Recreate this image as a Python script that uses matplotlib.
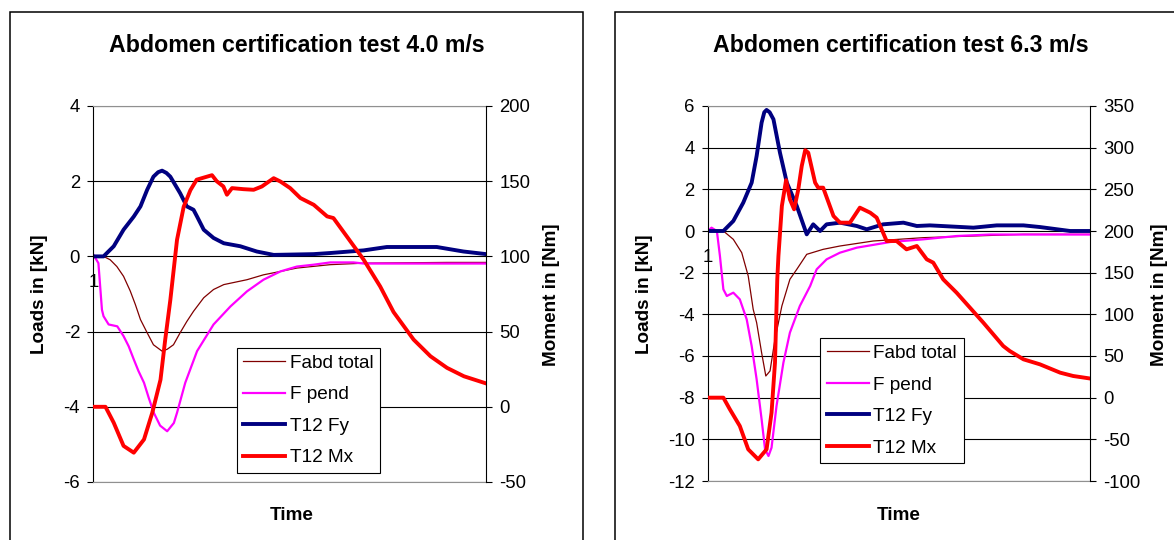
import numpy as np
import matplotlib
matplotlib.use('Agg')
import matplotlib.pyplot as plt
from matplotlib.patches import Rectangle

plt.rcParams['font.family'] = ['Liberation Sans', 'DejaVu Sans']
plt.rcParams['axes.unicode_minus'] = False

# ---- data (time in % of record length) ----
# Test at 4.0 m/s
t_fabd_40 = [0, 2.6, 4.3, 6, 7.7, 9.4, 10.7, 12, 13.7, 15.3, 17.5, 18.8, 20.4, 22.1, 23.8, 25.5, 28.1,
             30.6, 33.2, 39.1, 43.3, 47.6, 51.8, 60.3, 68.8, 90, 100]
fabd_40 = [0, 0, -0.09, -0.27, -0.53, -0.92, -1.28, -1.68, -2.03, -2.35, -2.52, -2.47, -2.35, -2.03, -1.73,
           -1.46, -1.1, -0.88, -0.75, -0.62, -0.49, -0.4, -0.31, -0.22, -0.18, -0.16, -0.16]

t_fpend_40 = [0, 1.3, 2.2, 2.6, 3.9, 6.1, 7.7, 9, 10.3, 11.5, 12.9, 14.1, 15.4, 17, 18.8, 20.5, 21.3, 23.4,
              26.4, 30.6, 34.9, 39.1, 43.3, 47.6, 51.8, 56.1, 60.3, 66.2, 68.8, 100]
fpend_40 = [0.05, -0.18, -1.42, -1.59, -1.81, -1.86, -2.12, -2.39, -2.74, -3.05, -3.36, -3.76, -4.16, -4.5,
            -4.65, -4.43, -4.16, -3.36, -2.52, -1.81, -1.33, -0.93, -0.62, -0.4, -0.27, -0.22, -0.16, -0.16,
            -0.19, -0.19]

t_fy_40 = [0, 2.6, 5.2, 7.7, 10.3, 12, 13.7, 15.3, 16.5, 17.5, 18.6, 19.6, 22.1, 23.8, 25.5, 26.4, 28.1,
           30.6, 33.2, 37.4, 41.6, 45.9, 56, 60.3, 68.8, 74.7, 87.4, 94.2, 100]
fy_40 = [0, 0, 0.27, 0.71, 1.06, 1.33, 1.77, 2.12, 2.24, 2.28, 2.22, 2.12, 1.68, 1.33, 1.24, 1.06, 0.71,
         0.49, 0.35, 0.27, 0.13, 0.04, 0.06, 0.09, 0.16, 0.25, 0.25, 0.13, 0.06]

t_mx_40 = [0, 3.1, 5.2, 7.7, 10.3, 12.9, 15, 17.1, 18.3, 19.6, 21.3, 23, 24.7, 26.3, 28.9, 30.2, 31.4, 33.1,
           34, 35.3, 38.2, 40.8, 42.9, 45.9, 47.6, 50.1, 52.7, 56.1, 59.5, 61.1, 64.5, 68.8, 73, 76.4, 81.5,
           85.8, 90, 94.3, 100]
mx_40 = [0, 0, -10.6, -26, -30.5, -21.7, -4, 18, 44.7, 71, 111, 133, 144, 151, 153, 154, 150, 146.5,
         141, 145.4, 144.7, 144.3, 146.5, 152, 149.8, 145.4, 138.8, 134.3, 126.6, 125.5, 113.3, 97.8, 80,
         63, 44.7, 33.6, 25.9, 20.3, 15.5]

# Test at 6.3 m/s
t_fabd_63 = [0, 4.1, 6.7, 8.9, 10.6, 11.9, 12.8, 14.1, 15.2, 16.3, 17.6, 19.4, 21.5, 23.3, 25.9, 30.2,
             34.6, 43.3, 56.4, 69.5, 82.6, 100]
fabd_63 = [0, 0, -0.4, -1.04, -2.16, -3.76, -4.4, -5.84, -6.96, -6.72, -5.2, -3.6, -2.32, -1.84, -1.12,
           -0.88, -0.72, -0.48, -0.32, -0.24, -0.16, -0.16]

t_fpend_63 = [0, 1, 2.4, 3.2, 4.1, 5, 6.7, 8.4, 10.2, 11.5, 12.8, 14.1, 15, 15.9, 16.7, 18, 19.8, 21.5,
              24.1, 26.8, 28.5, 31.1, 34.6, 39, 47.7, 56.4, 65.1, 73.8, 100]
fpend_63 = [0, 0.16, 0, -1.2, -2.8, -3.12, -2.96, -3.28, -4.24, -5.52, -7.12, -9.04, -10.48, -10.8, -10.4,
            -8.4, -6.32, -4.88, -3.6, -2.64, -1.84, -1.36, -1.04, -0.8, -0.53, -0.4, -0.24, -0.17, -0.17]

t_fy_63 = [0, 4.1, 6.7, 9.3, 11.5, 12.8, 14.1, 14.8, 15.4, 16.2, 17.2, 18.9, 20.7, 23.3, 25.9, 27.6, 29.4,
           31.1, 34.6, 39, 41.6, 45.9, 51.2, 54.7, 58.1, 69.5, 75.6, 82.6, 86.9, 94.8, 100]
fy_63 = [0, 0, 0.48, 1.36, 2.32, 3.6, 5.2, 5.7, 5.81, 5.7, 5.36, 3.76, 2.32, 1.2, -0.16, 0.32, 0, 0.32,
         0.4, 0.24, 0.08, 0.32, 0.4, 0.24, 0.27, 0.16, 0.27, 0.27, 0.19, 0, 0]

t_mx_63 = [0, 4.1, 5.8, 8.4, 10.6, 13.2, 15.4, 16.7, 17.6, 18.2, 18.5, 19.4, 20.5, 21.5, 22.6, 23.7, 24.6,
           25.5, 26.3, 28.1, 28.9, 30.2, 32.9, 34.6, 37.2, 39.8, 42.5, 44.2, 46.8, 49.4, 52, 54.7, 57.3, 59,
           61.6, 65.1, 68.6, 72.1, 77.3, 79, 82.6, 86.9, 92.2, 95.6, 100]
mx_63 = [0, 0, -14, -34, -62, -74, -62, -18, 42, 142, 170, 230, 261, 238, 226, 250, 278, 297, 294, 258,
         252, 252, 218, 210, 210, 228, 222, 216, 188, 188, 178, 182, 166, 162, 142, 126, 108, 90, 62, 56,
         46, 40, 30, 26, 23]

series_names = ['Fabd total', 'F pend', 'T12 Fy', 'T12 Mx']
titles = ['Abdomen certification test 4.0 m/s', 'Abdomen certification test 6.3 m/s']

W, H = 1174, 540


def fx(x):
    return x / W


def fy(y):
    return 1 - y / H


fig = plt.figure(figsize=(W / 100, H / 100), dpi=100)

# chart area borders (Excel style)
for x0, x1 in [(10, 583), (615, 1200)]:
    fig.patches.append(Rectangle((fx(x0), fy(570)), fx(x1 - x0), (570 - 12) / H,
                                 transform=fig.transFigure, fill=False, ec='black', lw=1.1))


def draw_panel(box, title, data, kn_lim, nm_lim, leg_xy, txt):
    x0, y0, x1, y1 = box
    t_fabd, fabd, t_fp, fp, t_fy, fyv, t_mx, mx = data
    ax = fig.add_axes([fx(x0), fy(y1), fx(x1 - x0), (y1 - y0) / H])
    ax.set_xlim(0, 100)
    ax.set_ylim(kn_lim)
    ax.set_yticks(np.arange(kn_lim[0], kn_lim[1] + 1, 2))
    ax.set_xticks([])
    ax.grid(axis='y', color='black', lw=0.8)
    ax.spines['left'].set_color('black')
    ax.spines['top'].set_color('#909090')
    ax.spines['bottom'].set_color('#909090')
    ax.spines['right'].set_visible(False)
    ax.tick_params(axis='y', direction='out', length=4.5, width=0.8, labelsize=13.3, pad=5)

    l1, = ax.plot(t_fabd, fabd, color='#800000', lw=0.9, label=series_names[0])
    l2, = ax.plot(t_fp, fp, color='#FF00FF', lw=1.6, label=series_names[1])
    l3, = ax.plot(t_fy, fyv, color='#000080', lw=2.8, label=series_names[2], solid_joinstyle='round')
    ax.annotate('1', xy=(0, 0), xytext=(0, -19), textcoords='offset points',
                ha='center', va='center', fontsize=13.3, zorder=0)

    ax2 = ax.twinx()
    ax2.set_ylim(nm_lim)
    ax2.set_yticks(np.arange(nm_lim[0], nm_lim[1] + 1, 50))
    for s in ['left', 'top', 'bottom']:
        ax2.spines[s].set_visible(False)
    ax2.spines['right'].set_color('black')
    ax2.tick_params(axis='y', direction='out', length=4.5, width=0.8, labelsize=13.3, pad=5)
    l4, = ax2.plot(t_mx, mx, color='#FF0000', lw=2.8, label=series_names[3], solid_joinstyle='round')

    leg = ax2.legend([l1, l2, l3, l4], series_names, loc='upper left',
                     bbox_to_anchor=(fx(leg_xy[0]), fy(leg_xy[1])), bbox_transform=fig.transFigure,
                     frameon=True, fancybox=False, edgecolor='black', framealpha=1, fontsize=13.7,
                     handlelength=2.2, handletextpad=0.25, labelspacing=0.75, borderpad=0.35,
                     borderaxespad=0)
    leg.get_frame().set_linewidth(0.8)

    tx, lx, rx, bx = txt
    fig.text(fx(tx), fy(45), title, ha='center', va='center', fontsize=16.7, fontweight='bold')
    fig.text(fx(lx), fy(294), 'Loads in [kN]', rotation=90, ha='center', va='center',
             fontsize=13.6, fontweight='bold')
    fig.text(fx(rx), fy(295), 'Moment in [Nm]', rotation=90, ha='center', va='center',
             fontsize=13.6, fontweight='bold')
    fig.text(fx(bx), fy(515), 'Time', ha='center', va='center', fontsize=13.6, fontweight='bold')


draw_panel((93.3, 106, 486.3, 482), titles[0],
           (t_fabd_40, fabd_40, t_fpend_40, fpend_40, t_fy_40, fy_40, t_mx_40, mx_40),
           (-6, 4), (-50, 200), (236.7, 347.7), (297, 40, 551, 292))
draw_panel((707.7, 106, 1090, 481), titles[1],
           (t_fabd_63, fabd_63, t_fpend_63, fpend_63, t_fy_63, fy_63, t_mx_63, mx_63),
           (-12, 6), (-100, 350), (820, 338), (901, 644.5, 1160, 898.5))

fig.savefig('out.png', dpi=100)
